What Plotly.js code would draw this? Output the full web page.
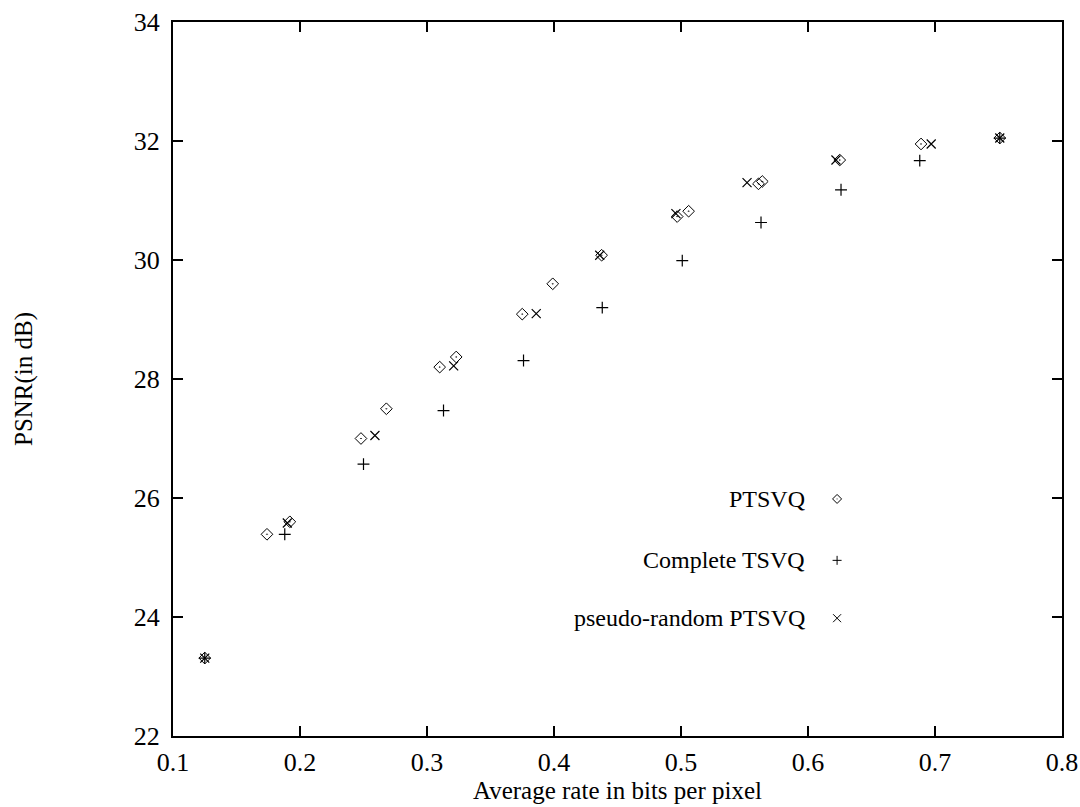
<!DOCTYPE html>
<html>
<head>
<meta charset="utf-8">
<script src="https://cdn.plot.ly/plotly-3.0.1.min.js"></script>
<style>html,body{margin:0;padding:0;background:#fff;}#chart{width:1080px;height:807px;}</style>
</head>
<body>
<div id="chart"></div>
<script>
// PTSVQ (diamonds)
const ptsvqRate = [0.125, 0.174, 0.192, 0.248, 0.268, 0.310, 0.323, 0.375, 0.399, 0.4375, 0.497, 0.506, 0.561, 0.564, 0.625, 0.689, 0.751];
const ptsvqPsnr = [23.31, 25.39, 25.60, 27.00, 27.50, 28.20, 28.37, 29.09, 29.60, 30.08, 30.73, 30.82, 31.28, 31.32, 31.68, 31.95, 32.05];
// Complete TSVQ (plus)
const tsvqRate = [0.125, 0.188, 0.250, 0.313, 0.376, 0.438, 0.501, 0.563, 0.626, 0.688, 0.751];
const tsvqPsnr = [23.31, 25.39, 26.57, 27.47, 28.31, 29.20, 29.99, 30.63, 31.18, 31.67, 32.05];
// pseudo-random PTSVQ (x)
const prRate = [0.125, 0.190, 0.259, 0.321, 0.386, 0.436, 0.496, 0.552, 0.622, 0.697, 0.751];
const prPsnr = [23.31, 25.58, 27.05, 28.22, 29.10, 30.08, 30.78, 31.30, 31.68, 31.95, 32.05];

const seriesNames = ['PTSVQ', 'Complete TSVQ', 'pseudo-random PTSVQ'];
const xTickVals = [0.1, 0.2, 0.3, 0.4, 0.5, 0.6, 0.7, 0.8];
const yTickVals = [22, 24, 26, 28, 30, 32, 34];

const FONT = 'Liberation Serif, Times New Roman, serif';

const traces = [
  {x: ptsvqRate, y: ptsvqPsnr, name: seriesNames[0], mode: 'markers', type: 'scatter',
   marker: {symbol: 'diamond-open-dot', size: 9, color: '#000', line: {width: 1, color: '#000'}}},
  {x: tsvqRate, y: tsvqPsnr, name: seriesNames[1], mode: 'markers', type: 'scatter',
   marker: {symbol: 'cross-thin-open', size: 8.5, color: '#000', line: {width: 1.2, color: '#000'}}},
  {x: prRate, y: prPsnr, name: seriesNames[2], mode: 'markers', type: 'scatter',
   marker: {symbol: 'x-thin-open', size: 9, color: '#000', line: {width: 1.2, color: '#000'}}}
];

// legend (text left of symbol), drawn in layout
const legY = [0.332, 0.246, 0.165];
const legTextX = 0.713;
const legSymX = 0.747;
const symPaths = [
  'M0,-4.5 L4.5,0 L0,4.5 L-4.5,0 Z M0,-0.4 L0,0.4',
  'M-4.5,0 L4.5,0 M0,-4.5 L0,4.5',
  'M-4,-4 L4,4 M-4,4 L4,-4'
];
const annotations = seriesNames.map((n, i) => ({
  xref: 'paper', yref: 'paper', x: legTextX, y: legY[i], xanchor: 'right', yanchor: 'middle',
  text: n, showarrow: false, font: {family: FONT, size: 24, color: '#000'}
}));
const shapes = symPaths.map((p, i) => ({
  type: 'path', xref: 'paper', yref: 'paper', xsizemode: 'pixel', ysizemode: 'pixel',
  xanchor: legSymX, yanchor: legY[i], path: p, line: {color: '#000', width: 1}
}));

const axisCommon = {
  showline: true, linecolor: '#000', linewidth: 2, mirror: 'ticks',
  ticks: 'inside', ticklen: 10, tickwidth: 1.5, tickcolor: '#000',
  showgrid: false, zeroline: false,
  tickfont: {family: FONT, size: 26, color: '#000'}
};

const layout = {
  width: 1080, height: 807,
  margin: {l: 173, r: 18, t: 22, b: 71},
  paper_bgcolor: '#fff', plot_bgcolor: '#fff',
  showlegend: false,
  xaxis: Object.assign({}, axisCommon, {
    range: [0.1, 0.8], tickvals: xTickVals, ticktext: xTickVals.map(v => v.toFixed(1)),
    ticklabelstandoff: 2,
    title: {text: 'Average rate in bits per pixel', font: {family: FONT, size: 25, color: '#000'}, standoff: 2}
  }),
  yaxis: Object.assign({}, axisCommon, {
    range: [22, 34], tickvals: yTickVals, ticktext: yTickVals.map(String),
    ticklabelstandoff: 6,
    title: {text: 'PSNR(in dB)', font: {family: FONT, size: 25, color: '#000'}, standoff: 94}
  }),
  annotations: annotations,
  shapes: shapes
};

Plotly.newPlot('chart', traces, layout, {staticPlot: true, displayModeBar: false});
</script>
</body>
</html>
